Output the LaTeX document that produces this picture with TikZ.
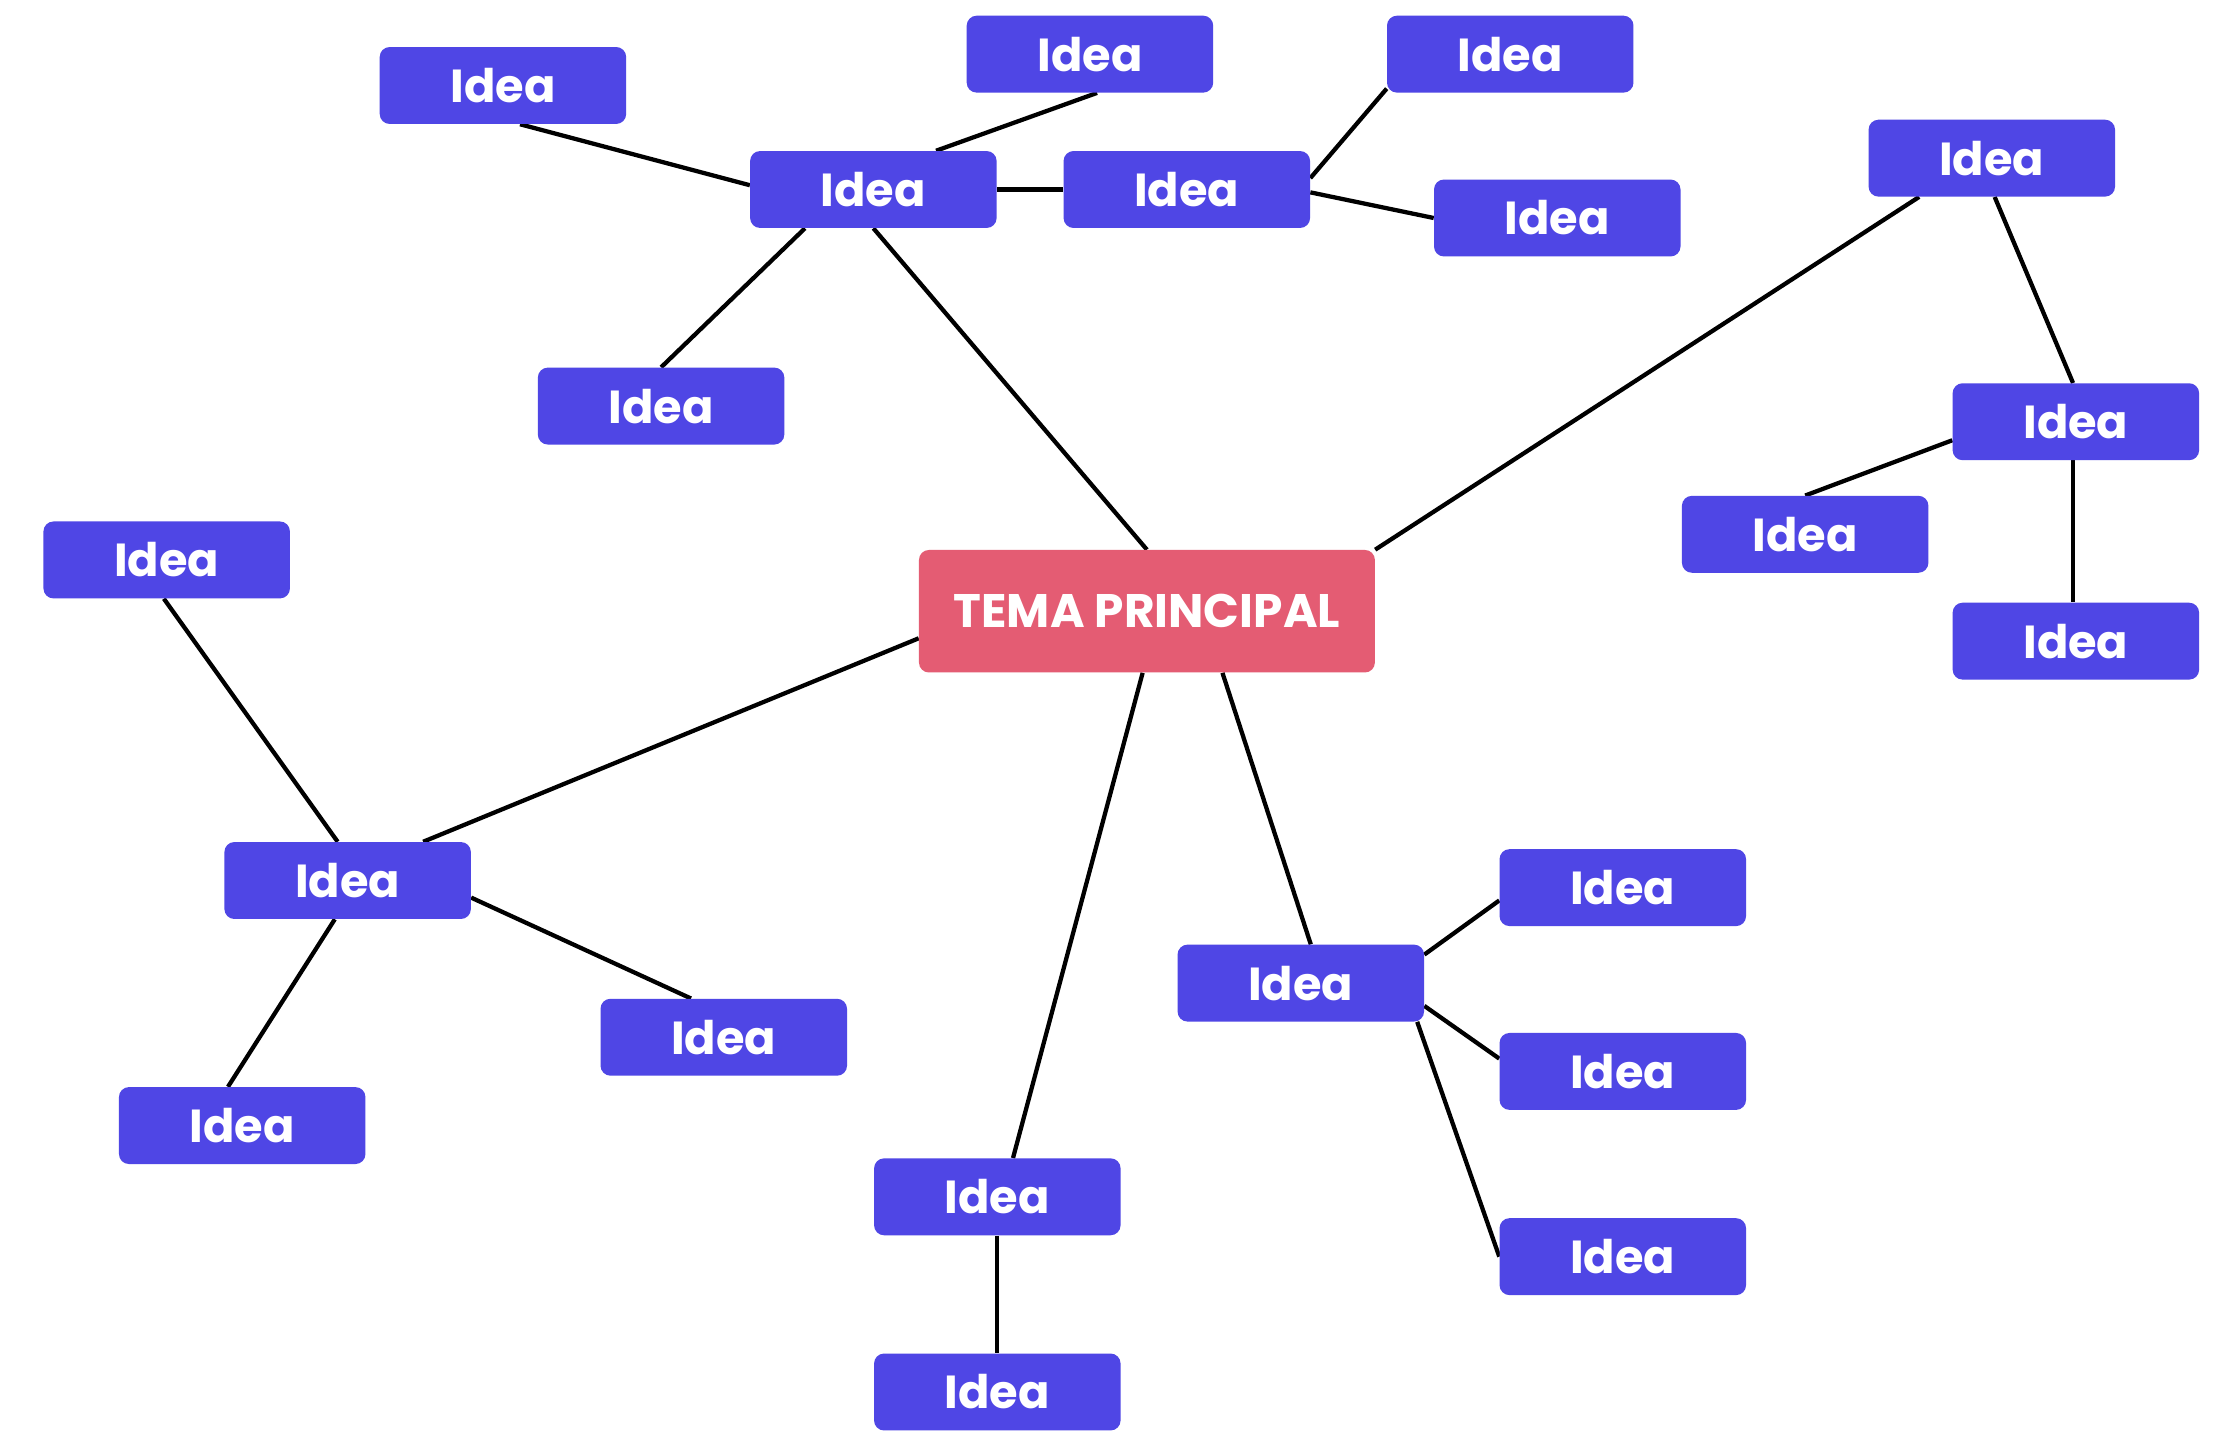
\documentclass[tikz,border=0pt]{standalone}
\usepackage{fontspec}
\setmainfont{Poppins}
\usetikzlibrary{calc,backgrounds}
\definecolor{ideablue}{HTML}{4F46E5}
\definecolor{temared}{HTML}{E45C73}
\tikzset{
  idea/.style={fill=ideablue, text=white, rounded corners=7pt, minimum width=173pt, minimum height=54pt, inner sep=0pt, font=\fontsize{32.5}{32.5}\selectfont\bfseries},
  tema/.style={fill=temared, text=white, rounded corners=7pt, minimum width=320pt, minimum height=86pt, inner sep=0pt, font=\fontsize{33}{33}\selectfont\bfseries},
  link/.style={draw=black, line width=3pt}
}
\begin{document}
\begin{tikzpicture}[x=1pt,y=-1pt]
\useasboundingbox (0,0) rectangle (1568,1005);
\node[tema] (c) at (805,429) {TEMA PRINCIPAL};
\node[idea] (n1) at (353,60) {Idea};
\node[idea] (n2) at (765,38) {Idea};
\node[idea] (n3) at (1060,38) {Idea};
\node[idea] (n4) at (613,133) {Idea};
\node[idea] (n5) at (833,133) {Idea};
\node[idea] (n6) at (1093,153) {Idea};
\node[idea] (n7) at (1398,111) {Idea};
\node[idea] (n8) at (464,285) {Idea};
\node[idea] (n9) at (1457,296) {Idea};
\node[idea] (n10) at (1267,375) {Idea};
\node[idea] (n11) at (117,393) {Idea};
\node[idea] (n13) at (1457,450) {Idea};
\node[idea] (n14) at (244,618) {Idea};
\node[idea] (n15) at (1139,623) {Idea};
\node[idea] (n16) at (913,690) {Idea};
\node[idea] (n17) at (508,728) {Idea};
\node[idea] (n18) at (1139,752) {Idea};
\node[idea] (n19) at (170,790) {Idea};
\node[idea] (n20) at (700,840) {Idea};
\node[idea] (n21) at (1139,882) {Idea};
\node[idea] (n22) at (700,977) {Idea};
\begin{scope}[on background layer]
\fill[white] (0,0) rectangle (1568,1005);
\draw[link] ($(n1.south)+(12,0)$) -- ($(n4.west)+(0,-3)$);
\draw[link] ($(n2.south)+(5,0)$) -- ($(n4.north)+(44,0)$);
\draw[link] (n4.east) -- (n5.west);
\draw[link] ($(n5.east)+(0,-8)$) -- ($(n3.south west)+(0,-3)$);
\draw[link] ($(n5.east)+(0,2)$) -- (n6.west);
\draw[link] ($(n4.south)+(-48,0)$) -- (n8.north);
\draw[link] (n4.south) -- (c.north);
\draw[link] (c.north east) -- ($(n7.south)+(-51,0)$);
\draw[link] ($(n7.south)+(2,0)$) -- ($(n9.north)+(-2,0)$);
\draw[link] ($(n9.west)+(0,13)$) -- (n10.north);
\draw[link] ($(n9.south)+(-2,0)$) -- ($(n13.north)+(-2,0)$);
\draw[link] ($(c.west)+(0,19)$) -- ($(n14.north)+(53,0)$);
\draw[link] ($(n11.south)+(-2,0)$) -- ($(n14.north)+(-7,0)$);
\draw[link] ($(n14.east)+(0,12)$) -- ($(n17.north)+(-23,0)$);
\draw[link] ($(n14.south)+(-9,0)$) -- ($(n19.north)+(-10,0)$);
\draw[link] ($(c.south)+(-3,0)$) -- ($(n20.north)+(11,0)$);
\draw[link] ($(c.south)+(53,0)$) -- ($(n16.north)+(7,0)$);
\draw[link] ($(n16.east)+(0,-20)$) -- ($(n15.west)+(0,9)$);
\draw[link] ($(n16.east)+(0,16)$) -- ($(n18.west)+(0,-9)$);
\draw[link] ($(n16.south east)+(-5,0)$) -- (n21.west);
\draw[link] (n20.south) -- (n22.north);
\end{scope}
\end{tikzpicture}
\end{document}
